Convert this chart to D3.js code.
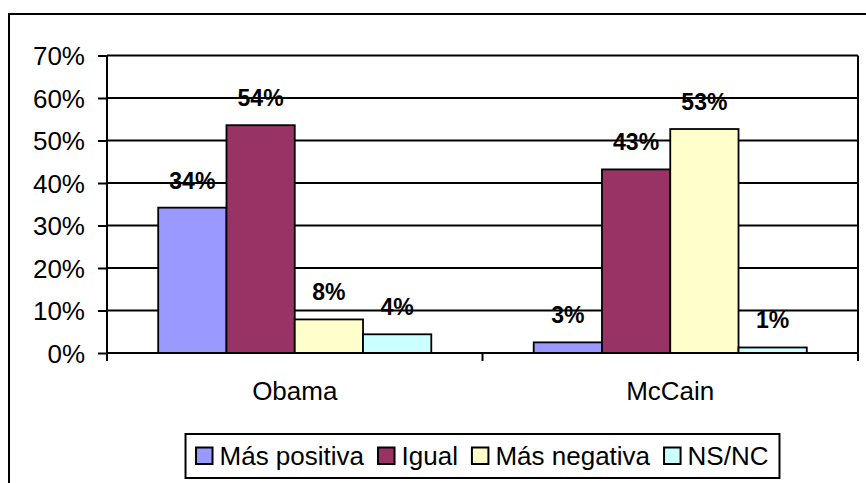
<!DOCTYPE html>
<html><head><meta charset="utf-8">
<script src="https://cdn.jsdelivr.net/npm/d3@7"></script>
<style>
html,body{margin:0;padding:0;background:#fff;}
svg{display:block;font-family:"Liberation Sans",Arial,sans-serif;}
</style></head>
<body>
<svg id="chart" width="866" height="483"></svg>
<script>
const categories = ["Obama", "McCain"];
const series = ["Más positiva", "Igual", "Más negativa", "NS/NC"];
const obamaValues = [34.2, 53.6, 7.9, 4.4];
const mccainValues = [2.5, 43.2, 52.7, 1.3];
const colors = ["#9999FF", "#993366", "#FFFFCC", "#CCFFFF"];
const yTicks = [0, 10, 20, 30, 40, 50, 60, 70];

const data = [obamaValues, mccainValues];
const svg = d3.select("#chart");

// outer frame
svg.append("rect").attr("x", 9).attr("y", 14).attr("width", 900).attr("height", 500)
  .attr("fill", "none").attr("stroke", "#000").attr("stroke-width", 2);

const plot = {left: 107, right: 858, top: 55.5, bottom: 353};
const y = d3.scaleLinear().domain([0, 70]).range([plot.bottom, plot.top]);
const x0 = d3.scaleBand().domain(categories).range([plot.left, plot.right]).padding(0);
const x1 = d3.scaleBand().domain(series).range([0, x0.bandwidth()]).paddingInner(0).paddingOuter(0.75);

// gridlines
svg.append("g").selectAll("line").data(yTicks.filter(t => t > 0)).join("line")
  .attr("x1", plot.left).attr("x2", plot.right)
  .attr("y1", d => y(d)).attr("y2", d => y(d))
  .attr("stroke", "#000").attr("stroke-width", 2);
// right border
svg.append("line").attr("x1", plot.right).attr("x2", plot.right)
  .attr("y1", plot.top).attr("y2", plot.bottom).attr("stroke", "#000").attr("stroke-width", 2);

// bars
const groups = svg.append("g").selectAll("g").data(data).join("g")
  .attr("transform", (d, i) => `translate(${x0(categories[i])},0)`);
groups.selectAll("rect").data(d => d.map((v, j) => ({v, s: series[j], j}))).join("rect")
  .attr("x", d => x1(d.s)).attr("width", x1.bandwidth())
  .attr("y", d => y(d.v)).attr("height", d => y(0) - y(d.v))
  .attr("fill", d => colors[d.j]).attr("stroke", "#000").attr("stroke-width", 1.8);
groups.selectAll("text").data(d => d.map((v, j) => ({v, s: series[j]}))).join("text")
  .attr("x", d => x1(d.s) + x1.bandwidth() / 2).attr("y", d => y(d.v) - 19)
  .attr("text-anchor", "middle").attr("font-size", 23).attr("font-weight", "bold")
  .text(d => Math.round(d.v) + "%");

// y axis
const yAxis = d3.axisLeft(y).tickValues(yTicks).tickSize(9).tickPadding(13).tickFormat(d => d + "%");
const ga = svg.append("g").attr("transform", `translate(${plot.left},0)`).call(yAxis);
ga.select(".domain").remove();
ga.selectAll(".tick line").attr("stroke", "#000").attr("stroke-width", 2);
ga.selectAll(".tick text").attr("font-size", 26).attr("fill", "#000")
  .attr("font-family", "Liberation Sans, Arial, sans-serif").attr("dy", "0.36em");
svg.append("line").attr("x1", plot.left).attr("x2", plot.left)
  .attr("y1", plot.top).attr("y2", plot.bottom + 8).attr("stroke", "#000").attr("stroke-width", 2);

// x axis
svg.append("line").attr("x1", plot.left).attr("x2", plot.right)
  .attr("y1", plot.bottom).attr("y2", plot.bottom).attr("stroke", "#000").attr("stroke-width", 2);
const xAxis = d3.axisBottom(x0).tickSize(0).tickPadding(0);
const gx = svg.append("g").attr("transform", `translate(0,${plot.bottom})`).call(xAxis);
gx.select(".domain").remove();
gx.selectAll(".tick text").attr("font-size", 26).attr("fill", "#000")
  .attr("font-family", "Liberation Sans, Arial, sans-serif").attr("dy", null).attr("y", 47);
svg.append("g").selectAll("line").data([plot.left, x0("McCain"), plot.right]).join("line")
  .attr("x1", d => d).attr("x2", d => d).attr("y1", plot.bottom).attr("y2", plot.bottom + 8)
  .attr("stroke", "#000").attr("stroke-width", 2);

// legend
const leg = svg.append("g");
const legBox = leg.append("rect").attr("fill", "#fff").attr("stroke", "#000").attr("stroke-width", 2);
let cx = 0;
const gap = 14;
series.forEach((s, i) => {
  const g = leg.append("g").attr("transform", `translate(${cx},0)`);
  g.append("rect").attr("x", 0).attr("y", -17.5).attr("width", 16.5).attr("height", 16.5)
    .attr("fill", colors[i]).attr("stroke", "#000").attr("stroke-width", 2);
  const t = g.append("text").attr("x", 23.5).attr("y", 0).attr("font-size", 26).text(s);
  cx += 23.5 + t.node().getComputedTextLength() + gap;
});
const legW = cx - gap;
const padL = 10.5, padR = 11;
const boxW = legW + padL + padR;
const boxX = (plot.left + plot.right) / 2 - boxW / 2;
leg.attr("transform", `translate(${boxX + padL},465)`);
legBox.attr("x", -padL).attr("y", -31).attr("width", boxW).attr("height", 44);
</script>
</body></html>
